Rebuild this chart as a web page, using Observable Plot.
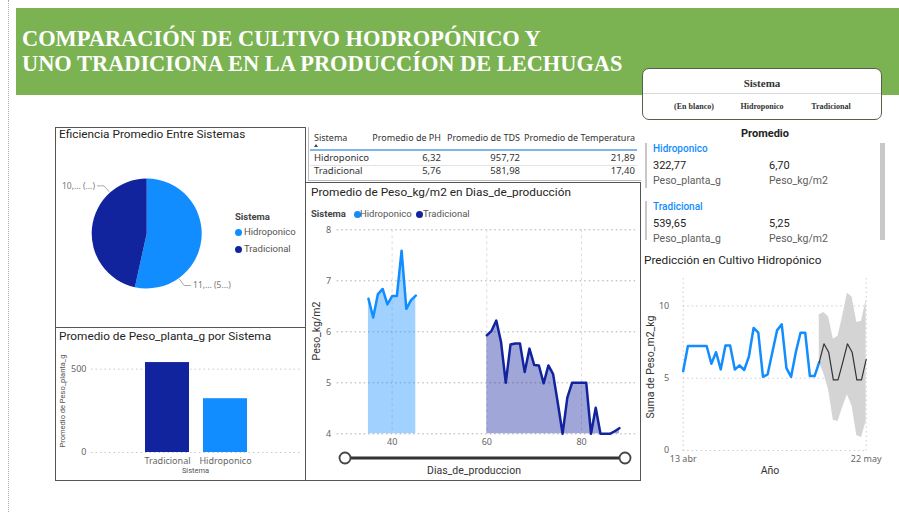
<!DOCTYPE html>
<html><head><meta charset="utf-8">
<script src="https://cdn.jsdelivr.net/npm/d3@7"></script>
<script src="https://cdn.jsdelivr.net/npm/@observablehq/plot@0.6"></script>
<style>
body{margin:0;width:899px;height:512px;background:#fff;position:relative;overflow:hidden;font-family:Roboto,sans-serif;}
.box{position:absolute;box-sizing:border-box;}
</style></head><body>
<script>
// ---------------- DATA ----------------
const tituloLineas = ["COMPARACIÓN DE CULTIVO HODROPÓNICO Y", "UNO TRADICIONA EN LA PRODUCCÍON DE LECHUGAS"];
const slicerTitulo = "Sistema";
const slicerItems = ["(En blanco)", "Hidroponico", "Tradicional"];
const sistemas = ["Hidroponico", "Tradicional"];
const colores = ["#118DFF", "#12239E"];

const pieTitulo = "Eficiencia Promedio Entre Sistemas";
const eficiencia = [11.6, 10.1];
const pieEtiquetas = ["11,... (5...)", "10,... (...)"];

const barTitulo = "Promedio de Peso_planta_g por Sistema";
const barOrden = ["Tradicional", "Hidroponico"];
const pesoPlanta = [322.77, 539.65]; // Hidroponico, Tradicional
const barYTicks = [0, 500];

const tablaCols = ["Sistema", "Promedio de PH", "Promedio de TDS", "Promedio de Temperatura"];
const ph = ["6,32", "5,76"];
const tds = ["957,72", "581,98"];
const temperatura = ["21,89", "17,40"];

const areaTitulo = "Promedio de Peso_kg/m2 en Dias_de_producción";
const diasHidro = [35, 36, 37, 38, 39, 40, 41, 42, 43, 44, 45];
const pesoHidro = [6.65, 6.28, 6.74, 6.84, 6.54, 6.70, 6.70, 7.59, 6.45, 6.62, 6.71];
const diasTrad = [60, 61, 62, 63, 64, 65, 66, 67, 68, 69, 70, 71, 72, 73, 74, 75, 76, 77, 78, 79, 80, 81, 82, 83, 84, 85, 86, 87, 88];
const pesoTrad = [5.93, 6.02, 6.22, 5.80, 5.00, 5.75, 5.77, 5.77, 5.21, 5.67, 5.35, 5.34, 4.99, 5.34, 5.17, 4.60, 4.00, 4.71, 5.00, 5.00, 5.00, 5.00, 4.00, 4.51, 4.00, 4.00, 4.00, 4.05, 4.11];
const areaXTicks = [40, 60, 80];
const areaYTicks = [4, 5, 6, 7, 8];
const areaYLabel = "Peso_kg/m2";
const areaXLabel = "Dias_de_produccion";

const cardTitulo = "Promedio";
const pesoPlantaTxt = ["322,77", "539,65"];
const pesoKgTxt = ["6,70", "5,25"];
const cardMedidas = ["Peso_planta_g", "Peso_kg/m2"];

const predTitulo = "Predicción en Cultivo Hidropónico";
const predDias = [0, 1, 2, 3, 4, 5, 6, 7, 8, 9, 10, 11, 12, 13, 14, 15, 16, 17, 18, 19, 20, 21, 22, 23, 24, 25, 26, 27, 28, 29];
const predReal = [5.50, 7.23, 7.23, 7.23, 7.23, 7.23, 6.0, 6.8, 5.61, 7.27, 7.27, 5.60, 5.89, 5.57, 6.50, 8.48, 8.15, 5.10, 5.27, 6.80, 8.31, 8.73, 5.70, 5.10, 6.80, 8.15, 8.15, 5.15, 5.15, 6.11];
const predFcDias = [29, 30, 31, 32, 33, 34, 35, 36, 37, 38, 39];
const predFc = [6.11, 7.38, 6.80, 4.88, 4.88, 6.10, 7.38, 6.80, 4.88, 4.88, 6.30];
const predAlto = [9.40, 9.55, 9.24, 7.70, 7.90, 9.30, 10.90, 10.60, 8.85, 8.95, 10.40];
const predBajo = [6.11, 5.30, 4.16, 2.10, 2.00, 3.00, 3.85, 3.05, 1.03, 0.90, 2.00];
const predXTicks = [0, 39];
const predXTickLabels = ["13 abr", "22 may"];
const predYTicks = [0, 5, 10];
const predYLabel = "Suma de Peso_m2_kg";
const predXLabel = "Año";

// ---------------- HELPERS ----------------
const body = document.body;
function box(x, y, w, h, style) {
  const d = document.createElement("div");
  d.className = "box";
  Object.assign(d.style, {left: x + "px", top: y + "px", width: w + "px", height: h + "px"}, style || {});
  body.appendChild(d);
  return d;
}
function txt(str, x, y, style, anchor, rotate) {
  const d = document.createElement("div");
  d.textContent = str;
  Object.assign(d.style, {position: "absolute", left: x + "px", top: y + "px", whiteSpace: "nowrap", lineHeight: "1"});
  const tx = anchor === "middle" ? "-50%" : anchor === "end" ? "-100%" : "0";
  d.style.transform = rotate ? `translate(-50%,-50%) rotate(${rotate}deg)` : `translate(${tx},-50%)`;
  Object.assign(d.style, style || {});
  body.appendChild(d);
  return d;
}
function place(node, x, y) {
  node.style.position = "absolute";
  node.style.left = x + "px";
  node.style.top = y + "px";
  body.appendChild(node);
}
const colorScale = Plot.scale({color: {type: "ordinal", domain: sistemas, range: colores}});
const colorOf = s => colorScale.apply(s);
const baseStyle = {fontFamily: "'Noto Sans', sans-serif", fontSize: "9px", color: "#666", background: "transparent", overflow: "visible"};
const intFmt = d => String(d);

// ---------------- BACKGROUND / HEADER ----------------
box(8, 0, 1, 512, {borderLeft: "1px dotted #aaa"});
box(16, 8, 883, 87, {background: "#7bb352"});
const serif = {fontFamily: "'Liberation Serif', serif", fontWeight: "bold", color: "#fff", fontSize: "22.4px"};
txt(tituloLineas[0], 22, 39, serif);
txt(tituloLineas[1], 22, 64, serif);

box(642, 68, 240, 52, {background: "#fff", border: "1.5px solid #55604a", borderRadius: "7px"});
box(643, 93, 238, 1, {background: "#d8d8d8"});
const serifSmall = {fontFamily: "'Liberation Serif', serif", fontWeight: "bold", color: "#333"};
txt(slicerTitulo, 762, 83, Object.assign({fontSize: "11px"}, serifSmall), "middle");
[694, 762, 831].forEach((x, i) => txt(slicerItems[i], x, 107, Object.assign({fontSize: "8px"}, serifSmall), "middle"));

// ---------------- PANELS ----------------
const panelBorder = {border: "1.5px solid #555"};
box(55, 127, 251, 201, panelBorder);
box(55, 327, 251, 154, panelBorder);
box(305, 182, 336, 299, panelBorder);
box(308, 127, 333, 54, {borderLeft: "1px solid #bbb", borderBottom: "1px solid #bbb"});

const titleStyle = {fontFamily: "Roboto, sans-serif", fontSize: "11.8px", color: "#252423"};
txt(pieTitulo, 59, 135, titleStyle);
txt(barTitulo, 59, 337, titleStyle);
txt(areaTitulo, 311, 193, titleStyle);
txt(predTitulo, 644, 261, titleStyle);

// ---------------- PIE ----------------
const pieData = sistemas.map((s, i) => ({sistema: s, value: eficiencia[i], label: pieEtiquetas[i]}));
function pieMark(index, scales, values, dimensions) {
  const {width, height, marginLeft, marginRight, marginTop, marginBottom} = dimensions;
  const cx = marginLeft + (width - marginLeft - marginRight) / 2;
  const cy = marginTop + (height - marginTop - marginBottom) / 2;
  const r = 55;
  const arcs = d3.pie().sort(null).value(d => d.value)(pieData);
  const arc = d3.arc().innerRadius(0).outerRadius(r);
  const g = d3.create("svg:g");
  g.selectAll("path").data(arcs).join("path")
    .attr("transform", `translate(${cx},${cy})`)
    .attr("d", arc)
    .attr("fill", d => colorOf(d.data.sistema));
  arcs.forEach(a => {
    const ang = a.startAngle + 0.75 * (a.endAngle - a.startAngle);
    const sx = Math.sin(ang), sy = -Math.cos(ang);
    const p0 = [cx + sx * (r + 1), cy + sy * (r + 1)];
    const p1 = [cx + sx * (r + 9), cy + sy * (r + 9)];
    const dir = sx >= 0 ? 1 : -1;
    const p2 = [p1[0] + dir * 7, p1[1]];
    g.append("polyline").attr("points", [p0, p1, p2].map(p => p.join(",")).join(" "))
      .attr("fill", "none").attr("stroke", "#aaa").attr("stroke-width", 1);
    g.append("text").attr("x", p2[0] + dir * 2).attr("y", p2[1]).attr("dy", "0.35em")
      .attr("text-anchor", dir > 0 ? "start" : "end").attr("fill", "#777").attr("font-size", 8.5)
      .text(a.data.label);
  });
  return g.node();
}
const pie = Plot.plot({
  width: 250, height: 187,
  marginLeft: 0, marginRight: 66.6, marginTop: 0, marginBottom: 0,
  style: baseStyle,
  marks: [pieMark]
});
place(pie, 55, 140);
txt("Sistema", 235, 217, {fontFamily: "Roboto, sans-serif", fontSize: "9.5px", fontWeight: "bold", color: "#444"});
sistemas.forEach((s, i) => {
  const y = 232 + i * 17;
  box(235, y - 3.5, 7, 7, {borderRadius: "50%", background: colorOf(s)});
  txt(s, 244, y, {fontFamily: "Roboto, sans-serif", fontSize: "9.5px", color: "#555"});
});

// ---------------- BAR ----------------
const barData = sistemas.map((s, i) => ({sistema: s, value: pesoPlanta[i]}));
const bar = Plot.plot({
  width: 250, height: 135,
  marginLeft: 36, marginRight: 5, marginTop: 7, marginBottom: 28,
  style: baseStyle,
  x: {domain: barOrden, paddingInner: 0.25, paddingOuter: 0.9, tickSize: 0, tickPadding: 5, label: null},
  y: {domain: [0, 600], ticks: barYTicks, tickFormat: intFmt, tickSize: 0, tickPadding: 5, label: null},
  color: {domain: sistemas, range: colores},
  marks: [
    Plot.ruleY(barYTicks, {stroke: "#c8c8c8", strokeDasharray: "1.5,3"}),
    Plot.barY(barData, {x: "sistema", y: "value", fill: "sistema"})
  ]
});
place(bar, 55, 345);
txt("Promedio de Peso_planta_g", 63, 401, {fontFamily: "Roboto, sans-serif", fontSize: "7.5px", color: "#555"}, "middle", -90);
txt("Sistema", 195.5, 471, {fontFamily: "Roboto, sans-serif", fontSize: "7.5px", color: "#555"}, "middle");

// ---------------- TABLE ----------------
const tabFont = {fontFamily: "'Noto Sans', sans-serif", fontSize: "9px", color: "#333"};
const colRight = [null, 441, 520, 635];
txt(tablaCols[0], 314, 137, tabFont);
for (let c = 1; c < 4; c++) txt(tablaCols[c], colRight[c], 137, tabFont, "end");
// sort indicator (small triangle shape)
box(314, 144, 0, 0, {borderLeft: "2.5px solid transparent", borderRight: "2.5px solid transparent", borderBottom: "3px solid #444"});
box(310, 149, 327, 1.5, {background: "#7fb5ea"});
box(310, 164.5, 327, 1, {background: "#e4e4e4"});
sistemas.forEach((s, i) => {
  const y = 158 + i * 13;
  const f = Object.assign({}, tabFont, {fontSize: "9.5px"});
  txt(s, 314, y, f);
  txt(ph[i], colRight[1], y, f, "end");
  txt(tds[i], colRight[2], y, f, "end");
  txt(temperatura[i], colRight[3], y, f, "end");
});

// ---------------- AREA CHART ----------------
const hidroData = diasHidro.map((d, i) => ({dia: d, peso: pesoHidro[i], sistema: sistemas[0]}));
const tradData = diasTrad.map((d, i) => ({dia: d, peso: pesoTrad[i], sistema: sistemas[1]}));
const areaChart = Plot.plot({
  width: 335, height: 260,
  marginLeft: 31.7, marginRight: 5, marginTop: 9.3, marginBottom: 46.7,
  style: baseStyle,
  x: {domain: [28.4, 91.4], ticks: areaXTicks, tickFormat: intFmt, tickSize: 0, tickPadding: 5, label: null},
  y: {domain: [4, 8], ticks: areaYTicks, tickFormat: intFmt, tickSize: 0, tickPadding: 6, label: null},
  marks: [
    Plot.ruleY(areaYTicks, {stroke: "#aaa", strokeDasharray: "1.5,3"}),
    Plot.ruleX(areaXTicks, {stroke: "#ddd", strokeDasharray: "3,3"}),
    Plot.areaY(hidroData, {x: "dia", y1: 4, y2: "peso", fill: colorOf(sistemas[0]), fillOpacity: 0.4}),
    Plot.areaY(tradData, {x: "dia", y1: 4, y2: "peso", fill: colorOf(sistemas[1]), fillOpacity: 0.4}),
    Plot.line(hidroData, {x: "dia", y: "peso", stroke: colorOf(sistemas[0]), strokeWidth: 2.5}),
    Plot.line(tradData, {x: "dia", y: "peso", stroke: colorOf(sistemas[1]), strokeWidth: 2.5})
  ]
});
place(areaChart, 305, 220);
txt("Sistema", 311, 214, {fontFamily: "Roboto, sans-serif", fontSize: "9.5px", fontWeight: "bold", color: "#444"});
[[354, 360], [416, 423]].forEach(([dx, tx], i) => {
  box(dx, 210.5, 7, 7, {borderRadius: "50%", background: colorOf(sistemas[i])});
  txt(sistemas[i], tx, 214, {fontFamily: "Roboto, sans-serif", fontSize: "9.5px", color: "#555"});
});
txt(areaYLabel, 317, 331, {fontFamily: "Roboto, sans-serif", fontSize: "10.5px", color: "#333"}, "middle", -90);
txt(areaXLabel, 474, 471, {fontFamily: "Roboto, sans-serif", fontSize: "10.5px", color: "#333"}, "middle");
// range slider
const slider = d3.create("svg").attr("width", 300).attr("height", 20);
slider.append("line").attr("x1", 10).attr("x2", 290).attr("y1", 10).attr("y2", 10).attr("stroke", "#333").attr("stroke-width", 3);
[10, 290].forEach(cx => slider.append("circle").attr("cx", cx).attr("cy", 10).attr("r", 5.5).attr("fill", "#fff").attr("stroke", "#444").attr("stroke-width", 1.8));
place(slider.node(), 335, 448);

// ---------------- CARD ----------------
txt(cardTitulo, 765, 133, {fontFamily: "Roboto, sans-serif", fontSize: "11px", fontWeight: "bold", color: "#252423"}, "middle");
sistemas.forEach((s, i) => {
  const y0 = 149 + i * 58;
  box(645, y0 - 6, 1.5, i === 0 ? 45 : 39, {background: "#c8c8c8"});
  txt(s, 653, y0, {fontFamily: "Roboto, sans-serif", fontSize: "10px", fontWeight: "500", color: colorOf(sistemas[0])});
  txt(pesoPlantaTxt[i], 653, y0 + 16, {fontFamily: "Roboto, sans-serif", fontSize: "11px", color: "#252423"});
  txt(pesoKgTxt[i], 769, y0 + 16, {fontFamily: "Roboto, sans-serif", fontSize: "11px", color: "#252423"});
  txt(cardMedidas[0], 653, y0 + 32, {fontFamily: "Roboto, sans-serif", fontSize: "10.5px", color: "#605e5c"});
  txt(cardMedidas[1], 769, y0 + 32, {fontFamily: "Roboto, sans-serif", fontSize: "10.5px", color: "#605e5c"});
});
box(880, 143, 5, 97, {background: "#c8c8c8"});

// ---------------- PREDICTION ----------------
const realData = predDias.map((d, i) => ({dia: d, v: predReal[i]}));
const fcData = predFcDias.map((d, i) => ({dia: d, v: predFc[i], lo: predBajo[i], hi: predAlto[i]}));
const pred = Plot.plot({
  width: 259, height: 210,
  marginLeft: 42.7, marginRight: 33.3, marginTop: 8, marginBottom: 30,
  style: baseStyle,
  x: {domain: [0, 39], ticks: predXTicks, tickFormat: d => predXTickLabels[predXTicks.indexOf(d)], tickSize: 0, tickPadding: 5, label: null},
  y: {domain: [0, 11.9], ticks: predYTicks, tickFormat: intFmt, tickSize: 0, tickPadding: 14, label: null},
  marks: [
    Plot.ruleY(predYTicks, {stroke: "#ccc", strokeDasharray: "1.5,3"}),
    Plot.ruleX(predXTicks, {stroke: "#ccc", strokeDasharray: "1.5,3"}),
    Plot.areaY(fcData, {x: "dia", y1: "lo", y2: "hi", fill: "#d4d4d4"}),
    Plot.line(realData, {x: "dia", y: "v", stroke: colorOf(sistemas[0]), strokeWidth: 2.5}),
    Plot.line(fcData, {x: "dia", y: "v", stroke: "#333", strokeWidth: 1.2})
  ]
});
place(pred, 640, 270);
txt(predYLabel, 651, 367, {fontFamily: "Roboto, sans-serif", fontSize: "10.5px", color: "#333"}, "middle", -90);
txt(predXLabel, 770, 471, {fontFamily: "Roboto, sans-serif", fontSize: "10.5px", color: "#333"}, "middle");
</script>
</body></html>
